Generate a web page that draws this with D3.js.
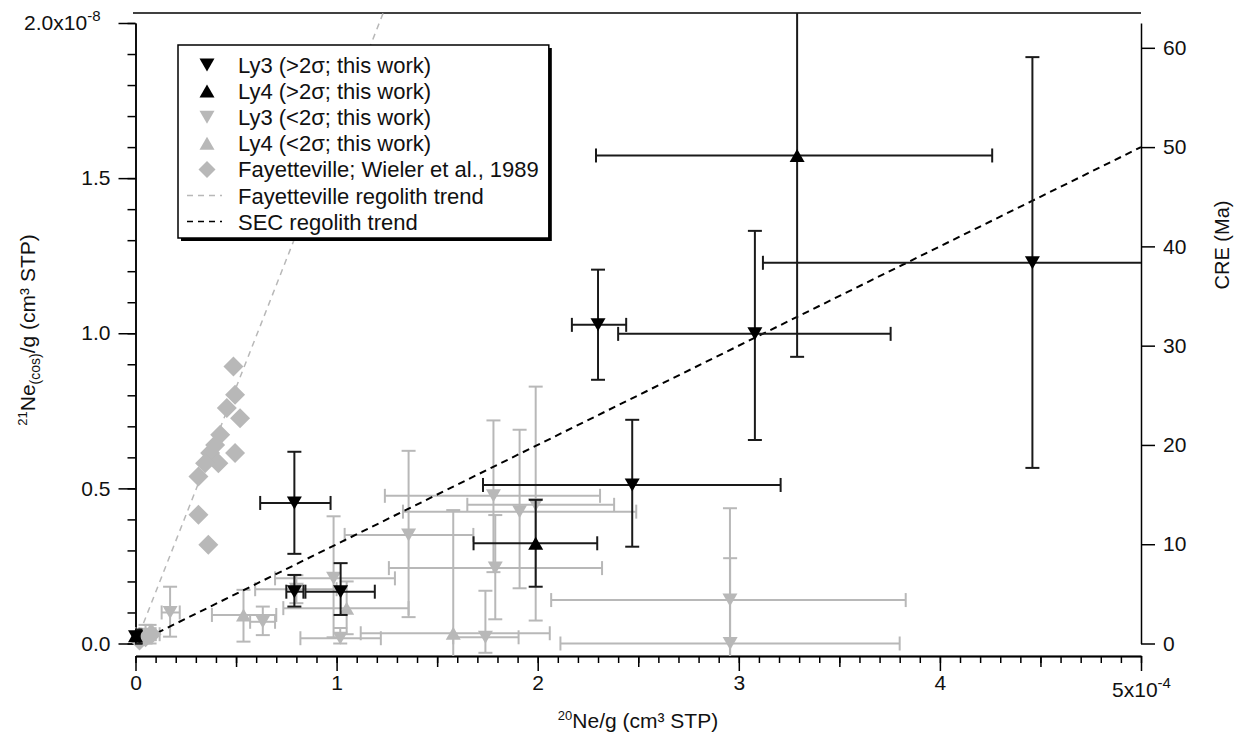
<!DOCTYPE html>
<html>
<head>
<meta charset="utf-8">
<script src="https://cdn.jsdelivr.net/npm/d3@7"></script>
<style>
  body { margin: 0; background: #fff; }
  text { font-family: "Liberation Sans", Arial, sans-serif; }
</style>
</head>
<body>
<svg id="chart" width="1243" height="740"></svg>
<script>
// values: x in 1e-4 cm3 STP/g, y in 1e-8 cm3 STP/g
// each row: [x, y, xLow, xHigh, yLow, yHigh]
var ly3Sig = [
  [0.00, 0.022, 0.00, 0.02, 0.00, 0.04],
  [0.79, 0.453, 0.62, 0.97, 0.289, 0.618],
  [0.79, 0.167, 0.75, 0.835, 0.119, 0.221],
  [1.02, 0.167, 0.845, 1.19, 0.092, 0.259],
  [2.30, 1.027, 2.17, 2.44, 0.85, 1.205],
  [3.08, 0.998, 2.40, 3.755, 0.656, 1.33],
  [2.47, 0.511, 1.728, 3.208, 0.312, 0.721],
  [4.46, 1.227, 3.12, 5.40, 0.566, 1.89]
];
var ly4Sig = [
  [0.00, 0.025, 0.00, 0.02, 0.00, 0.045],
  [3.29, 1.573, 2.29, 4.26, 0.924, 2.30],
  [1.99, 0.323, 1.681, 2.296, 0.183, 0.463]
];
var ly3Low = [
  [0.05, 0.03, 0.00, 0.10, 0.00, 0.06],
  [0.172, 0.10, 0.13, 0.22, 0.022, 0.183],
  [0.633, 0.07, 0.57, 0.694, 0.027, 0.119],
  [0.80, 0.175, 0.595, 1.00, 0.13, 0.22],
  [0.985, 0.21, 0.694, 1.29, 0.02, 0.41],
  [1.018, 0.017, 0.82, 1.22, 0.00, 0.05],
  [1.358, 0.35, 1.04, 1.68, 0.085, 0.621],
  [1.78, 0.476, 1.24, 2.31, 0.23, 0.719],
  [1.789, 0.243, 1.26, 2.32, 0.078, 0.414],
  [1.91, 0.425, 1.33, 2.49, 0.178, 0.689],
  [1.99, 0.447, 1.65, 2.38, 0.074, 0.828],
  [1.74, 0.02, 1.58, 1.905, -0.03, 0.17],
  [2.956, 0.14, 2.067, 3.83, -0.15, 0.436],
  [2.957, 0.00, 2.113, 3.80, -0.27, 0.275]
];
var ly4Low = [
  [0.07, 0.03, 0.02, 0.12, 0.00, 0.06],
  [0.537, 0.092, 0.38, 0.70, 0.006, 0.173],
  [1.05, 0.114, 0.735, 1.358, 0.03, 0.20],
  [1.58, 0.033, 1.12, 2.06, -0.05, 0.43]
];
var fayetteville = [
  [0.02, 0.01], [0.05, 0.02], [0.08, 0.03],
  [0.487, 0.893], [0.495, 0.802], [0.454, 0.759], [0.52, 0.726],
  [0.421, 0.673], [0.396, 0.64], [0.371, 0.614], [0.495, 0.614],
  [0.412, 0.581], [0.346, 0.581], [0.313, 0.538], [0.313, 0.415],
  [0.362, 0.318]
];
// regolith trends: [slope, intercept]
var fayTrend = [1.65, 0];
var secTrend = [0.32, 0];

var xTicks = [0, 1, 2, 3, 4, 5];
var xTickLabels = ['0', '1', '2', '3', '4', '5x10'];
var yTicks = [0, 0.5, 1, 1.5, 2];
var yTickLabels = ['0.0', '0.5', '1.0', '1.5', '2.0x10'];
var creTicks = [0, 10, 20, 30, 40, 50, 60];

var legendItems = [
  {label: 'Ly3 (>2σ; this work)', kind: 'down', color: '#000'},
  {label: 'Ly4 (>2σ; this work)', kind: 'up', color: '#000'},
  {label: 'Ly3 (<2σ; this work)', kind: 'down', color: '#b8b8b8'},
  {label: 'Ly4 (<2σ; this work)', kind: 'up', color: '#b8b8b8'},
  {label: 'Fayetteville; Wieler et al., 1989', kind: 'diamond', color: '#b8b8b8'},
  {label: 'Fayetteville regolith trend', kind: 'line', color: '#b8b8b8'},
  {label: 'SEC regolith trend', kind: 'line', color: '#000'}
];

var GRAY = '#b8b8b8';
var FS = 21;
var svg = d3.select('#chart');
svg.append('rect').attr('width', 1243).attr('height', 740).attr('fill', '#fff');

var x = d3.scaleLinear().domain([0, 5]).range([135.5, 1141]);
var y = d3.scaleLinear().domain([0, 2]).range([643.5, 23]);
var yR = d3.scaleLinear().domain([0, 62.5]).range([643.5, 23]);

svg.append('clipPath').attr('id', 'plot')
  .append('rect').attr('x', 135).attr('y', 13).attr('width', 1006).attr('height', 643);

// ---- axes ----
function styleAxis(g) {
  g.selectAll('path').attr('stroke', '#000').attr('stroke-width', 1.5);
  g.selectAll('line').attr('stroke', '#000').attr('stroke-width', 1.5);
  g.selectAll('text').attr('font-family', '"Liberation Sans", Arial, sans-serif')
    .attr('font-size', FS).attr('fill', '#111');
}

// bottom
svg.append('g').attr('transform', 'translate(0,656)')
  .call(d3.axisBottom(x).tickValues(d3.range(0, 5.01, 0.1)).tickSize(7).tickSizeOuter(0).tickFormat(''))
  .call(styleAxis);
svg.append('g').attr('transform', 'translate(0,656)')
  .call(d3.axisBottom(x).tickValues(d3.range(0.5, 5, 1)).tickSize(11).tickSizeOuter(0).tickFormat(''))
  .call(styleAxis);
var gxMaj = svg.append('g').attr('transform', 'translate(0,656)')
  .call(d3.axisBottom(x).tickValues(xTicks).tickSize(15).tickSizeOuter(0)
    .tickFormat(function(d, i) { return xTickLabels[i]; }).tickPadding(4))
  .call(styleAxis);
gxMaj.selectAll('.tick text').filter(function(d) { return d === 5; })
  .attr('dy', '1.05em')
  .append('tspan').attr('dy', -9).attr('font-size', 15).text('-4');

// left
svg.append('g').attr('transform', 'translate(135.5,0)')
  .call(d3.axisLeft(y).tickValues(d3.range(0, 2.001, 0.1)).tickSize(8).tickSizeOuter(0).tickFormat(''))
  .call(styleAxis);
var gyMaj = svg.append('g').attr('transform', 'translate(135.5,0)')
  .call(d3.axisLeft(y).tickValues(yTicks).tickSize(17).tickSizeOuter(0)
    .tickFormat(function(d, i) { return yTickLabels[i]; }).tickPadding(8))
  .call(styleAxis);
gyMaj.selectAll('.tick text').filter(function(d) { return d === 2; })
  .attr('x', -35)
  .append('tspan').attr('dy', -9).attr('font-size', 15).text('-8');

// right
svg.append('g').attr('transform', 'translate(1141,0)')
  .call(d3.axisRight(yR).tickValues(creTicks).tickSize(14).tickSizeOuter(0).tickPadding(8))
  .call(styleAxis);

// top frame
svg.append('line').attr('x1', 133).attr('x2', 1141).attr('y1', 13).attr('y2', 13)
  .attr('stroke', '#000').attr('stroke-width', 1.5);

// ---- titles ----
var yTitle = svg.append('text').attr('transform', 'translate(35,330) rotate(-90)')
  .attr('text-anchor', 'middle').attr('font-size', FS).attr('fill', '#111');
yTitle.append('tspan').attr('font-size', 13).attr('dy', -8).text('21');
yTitle.append('tspan').attr('dy', 8).text('Ne');
yTitle.append('tspan').attr('font-size', 14).attr('dy', 5).text('(cos)');
yTitle.append('tspan').attr('dy', -5).text('/g (cm³ STP)');

var xTitle = svg.append('text').attr('x', 638).attr('y', 728)
  .attr('text-anchor', 'middle').attr('font-size', FS).attr('fill', '#111');
xTitle.append('tspan').attr('font-size', 13).attr('dy', -8).text('20');
xTitle.append('tspan').attr('dy', 8).text('Ne/g (cm³ STP)');

svg.append('text').attr('transform', 'translate(1229,245) rotate(-90)')
  .attr('text-anchor', 'middle').attr('font-size', 20).attr('fill', '#111').text('CRE (Ma)');

// ---- marks ----
function markerPath(kind) {
  if (kind === 'down') return 'M-7.5,-6.5L7.5,-6.5L0,6.5Z';
  if (kind === 'up') return 'M-7.5,6.5L7.5,6.5L0,-6.5Z';
  return 'M0,-10L10,0L0,10L-10,0Z';
}

function errorBars(g, data, color, width) {
  var cap = 7;
  var gg = g.append('g').attr('stroke', color).attr('stroke-width', width).attr('fill', 'none');
  data.forEach(function(d) {
    var px = x(d[0]), py = y(d[1]);
    gg.append('line').attr('x1', x(d[2])).attr('x2', x(d[3])).attr('y1', py).attr('y2', py);
    gg.append('line').attr('x1', x(d[2])).attr('x2', x(d[2])).attr('y1', py - cap).attr('y2', py + cap);
    gg.append('line').attr('x1', x(d[3])).attr('x2', x(d[3])).attr('y1', py - cap).attr('y2', py + cap);
    gg.append('line').attr('x1', px).attr('x2', px).attr('y1', y(d[4])).attr('y2', y(d[5]));
    gg.append('line').attr('x1', px - cap).attr('x2', px + cap).attr('y1', y(d[4])).attr('y2', y(d[4]));
    gg.append('line').attr('x1', px - cap).attr('x2', px + cap).attr('y1', y(d[5])).attr('y2', y(d[5]));
  });
}

function markers(g, data, kind, color) {
  g.append('g').selectAll('path').data(data).join('path')
    .attr('d', markerPath(kind))
    .attr('transform', function(d) { return 'translate(' + x(d[0]) + ',' + y(d[1]) + ')'; })
    .attr('fill', color);
}

// gray (<2 sigma) data
var grayG = svg.append('g');
errorBars(grayG.append('g').attr('clip-path', 'url(#plot)'), ly3Low, GRAY, 2);
errorBars(grayG.append('g').attr('clip-path', 'url(#plot)'), ly4Low, GRAY, 2);
markers(grayG, ly3Low, 'down', GRAY);
markers(grayG, ly4Low, 'up', GRAY);

// trends
var trendG = svg.append('g').attr('clip-path', 'url(#plot)');
var trendLine = d3.line().x(function(d) { return x(d[0]); }).y(function(d) { return y(d[1]); });
var fx1 = (2.1 - fayTrend[1]) / fayTrend[0];
trendG.append('path')
  .attr('d', trendLine([[0, fayTrend[1]], [fx1, fayTrend[0] * fx1 + fayTrend[1]]]))
  .attr('stroke', GRAY).attr('stroke-width', 1.5).attr('stroke-dasharray', '6,5').attr('fill', 'none');
trendG.append('path')
  .attr('d', trendLine([[0, secTrend[1]], [5, secTrend[0] * 5 + secTrend[1]]]))
  .attr('stroke', '#000').attr('stroke-width', 2).attr('stroke-dasharray', '7,5').attr('fill', 'none');

markers(svg, fayetteville, 'diamond', GRAY);

// black (>2 sigma) data
var blackG = svg.append('g');
errorBars(blackG.append('g').attr('clip-path', 'url(#plot)'), ly3Sig, '#1a1a1a', 2);
errorBars(blackG.append('g').attr('clip-path', 'url(#plot)'), ly4Sig, '#1a1a1a', 2);
markers(blackG, ly3Sig, 'down', '#000');
markers(blackG, ly4Sig, 'up', '#000');

// ---- legend ----
var lg = svg.append('g').attr('transform', 'translate(178,45)');
var shadow = lg.append('rect').attr('x', 3).attr('y', 3).attr('height', 193).attr('fill', '#000');
var box = lg.append('rect').attr('height', 193).attr('fill', '#fff')
  .attr('stroke', '#000').attr('stroke-width', 1.5);
var maxLen = 0;
legendItems.forEach(function(it, i) {
  var cy = 20 + i * 26.1;
  if (it.kind === 'line') {
    lg.append('line').attr('x1', 9).attr('x2', 44).attr('y1', cy).attr('y2', cy)
      .attr('stroke', it.color).attr('stroke-width', 1.5).attr('stroke-dasharray', '6,5');
  } else {
    lg.append('path').attr('d', markerPath(it.kind)).attr('fill', it.color)
      .attr('transform', 'translate(29,' + cy + ')' + (it.kind === 'diamond' ? ' scale(0.85)' : ''));
  }
  var t = lg.append('text').attr('x', 60).attr('y', cy + 8).attr('font-size', 22).attr('fill', '#111').text(it.label);
  maxLen = Math.max(maxLen, t.node().getComputedTextLength());
});
box.attr('width', 60 + maxLen + 10);
shadow.attr('width', 60 + maxLen + 10);
</script>
</body>
</html>
